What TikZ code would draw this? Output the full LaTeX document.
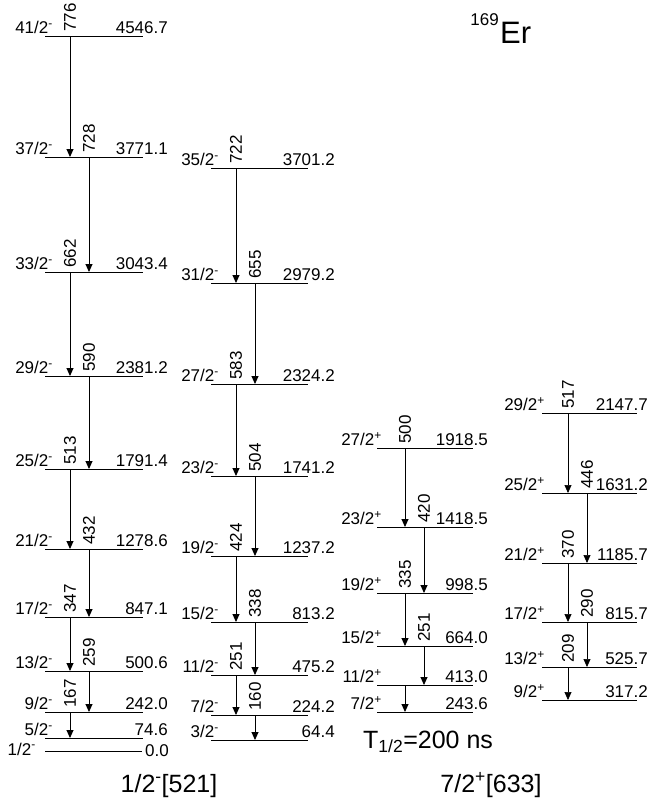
\documentclass[tikz,border=0pt]{standalone}
\usepackage{fontspec}
\setmainfont{Liberation Sans}
\usetikzlibrary{arrows.meta}

\begin{document}
\begin{tikzpicture}[x=1pt,y=-1pt,>={Triangle[width=7pt,length=8pt]},
  every node/.style={font=\fontsize{17}{20}\selectfont,inner sep=0pt},
  lvl/.style={line width=0.9pt},
  gam/.style={->,line width=0.9pt},
  spin/.style={anchor=base east,yshift=2.5pt},
  en/.style={anchor=base east,yshift=2.5pt},
  egam/.style={rotate=90,anchor=west}]
\useasboundingbox (0,0) rectangle (652,803);
% 1/2-[521] band, two signatures
\foreach \s/\y/\e in {41/36/4546.7,37/157/3771.1,33/272/3043.4,29/376/2381.2,
    25/469/1791.4,21/549/1278.6,17/617/847.1,13/671/500.6,9/712/242.0,5/738/74.6}{
  \coordinate (a\s) at (45,\y);
  \draw[lvl] (a\s)--++(98,0);
  \node[spin] (sa\s) at ([xshift=8pt]a\s) {\s/2\textsuperscript{-}};
  \node[en] (ea\s) at ([xshift=123pt]a\s) {\e};
}
\coordinate (a1) at (45,751);
\draw[lvl] (a1)--++(97,0);
\node[anchor=base east] (sa1) at ([xshift=-9pt,yshift=-4pt]a1) {1/2\textsuperscript{-}};
\node[anchor=base west] (ea1) at ([xshift=100pt,yshift=-5pt]a1) {0.0};
\foreach \u/\l/\dx/\g in {41/37/25/776,37/33/44/728,33/29/25/662,29/25/44/590,
    25/21/25/513,21/17/44/432,17/13/25/347,13/9/44/259,9/5/25/167}{
  \draw[gam] ([xshift=\dx pt]a\u)--([xshift=\dx pt]a\l);
  \node[egam] (ga\u) at ([xshift=\dx pt,yshift=4pt]a\u) {\g};
}
\foreach \s/\y/\e in {35/168/3701.2,31/283/2979.2,27/384/2324.2,23/476/1741.2,
    19/556/1237.2,15/622/813.2,11/675/475.2,7/715/224.2,3/740/64.4}{
  \coordinate (b\s) at (211,\y);
  \draw[lvl] (b\s)--++(97,0);
  \node[spin] (sb\s) at ([xshift=8pt]b\s) {\s/2\textsuperscript{-}};
  \node[en] (eb\s) at ([xshift=124pt]b\s) {\e};
}
\foreach \u/\l/\dx/\g in {35/31/25/722,31/27/44/655,27/23/25/583,23/19/44/504,
    19/15/25/424,15/11/44/338,11/7/25/251,7/3/44/160}{
  \draw[gam] ([xshift=\dx pt]b\u)--([xshift=\dx pt]b\l);
  \node[egam] (gb\u) at ([xshift=\dx pt,yshift=4pt]b\u) {\g};
}
% 7/2+[633] band
\foreach \s/\y/\e in {27/448/1918.5,23/527/1418.5,19/593/998.5,15/646/664.0,
    11/685/413.0,7/712/243.6}{
  \coordinate (c\s) at (377,\y);
  \draw[lvl] (c\s)--++(96,0);
  \node[spin] (sc\s) at ([xshift=5pt]c\s) {\s/2\textsuperscript{+}};
  \node[en] (ec\s) at ([xshift=111pt]c\s) {\e};
}
\foreach \u/\l/\dx/\g in {27/23/28/500,23/19/47/420,19/15/28/335,15/11/47/251}{
  \draw[gam] ([xshift=\dx pt]c\u)--([xshift=\dx pt]c\l);
  \node[egam] (gc\u) at ([xshift=\dx pt,yshift=4pt]c\u) {\g};
}
\draw[gam] ([xshift=28pt]c11)--([xshift=28pt]c7);
\foreach \s/\y/\e in {29/413/2147.7,25/493/1631.2,21/563/1185.7,17/622/815.7,
    13/667/525.7,9/700/317.2}{
  \coordinate (d\s) at (542,\y);
  \draw[lvl,line width=0.7pt] (d\s)--++(95,0);
  \node[spin] (sd\s) at ([xshift=3pt]d\s) {\s/2\textsuperscript{+}};
  \node[en] (ed\s) at ([xshift=106pt]d\s) {\e};
}
\foreach \u/\l/\dx/\g in {29/25/26/517,25/21/45/446,21/17/26/370,17/13/45/290,13/9/26/209}{
  \draw[gam,line width=0.7pt] ([xshift=\dx pt]d\u)--([xshift=\dx pt]d\l);
  \node[egam] (gd\u) at ([xshift=\dx pt,yshift=4pt]d\u) {\g};
}
% titles
\node[anchor=base west,font=\fontsize{31}{34}\selectfont] (er) at (500,43) {Er};
\node[anchor=base east] (mass) at (499,25) {169};
\node[anchor=base west,font=\fontsize{25}{28}\selectfont] (thalf) at (363,748) {T\textsubscript{1/2}=200 ns};
\node[anchor=base,font=\fontsize{25}{28}\selectfont] (banda) at (169,792) {1/2\textsuperscript{-}[521]};
\node[anchor=base,font=\fontsize{25}{28}\selectfont] (bandc) at (491,792) {7/2\textsuperscript{+}[633]};
\end{tikzpicture}
\end{document}
